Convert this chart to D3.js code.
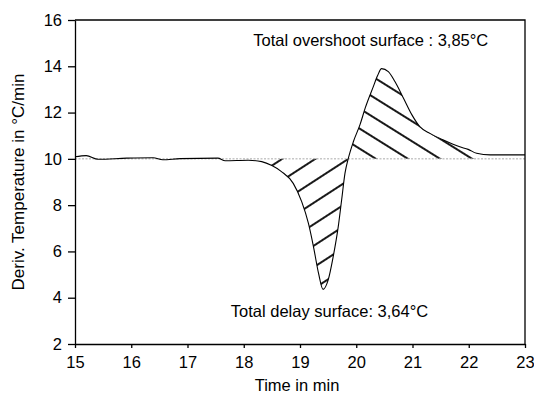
<!DOCTYPE html>
<html>
<head>
<meta charset="utf-8">
<script src="https://cdn.jsdelivr.net/npm/d3@7"></script>
<style>
  body { margin: 0; background: #fff; }
  text { font-family: "Liberation Sans", Arial, sans-serif; fill: #000; }
</style>
</head>
<body>
<svg id="chart" width="534" height="393"></svg>
<script>
// values
const times = [15.00, 15.20, 15.41, 15.92, 16.39, 16.56, 16.87, 17.54, 17.67, 18.08,
  18.32, 18.50, 18.67, 18.88, 19.03, 19.15, 19.24, 19.33, 19.41, 19.50,
  19.59, 19.68, 19.74, 19.80, 19.86, 19.95, 20.07, 20.16, 20.30, 20.38,
  20.45, 20.57, 20.69, 20.84, 20.99, 21.13, 21.31, 21.55, 21.84, 21.99,
  22.14, 22.38, 23.00];
const rates = [10.09, 10.14, 9.98, 10.03, 10.05, 9.96, 10.01, 10.03, 9.92, 9.94,
  9.88, 9.71, 9.45, 8.94, 8.15, 7.21, 6.20, 5.05, 4.36, 4.76,
  5.77, 7.07, 8.22, 9.38, 10.03, 10.75, 11.50, 12.20, 13.10, 13.60,
  13.90, 13.77, 13.33, 12.62, 11.90, 11.39, 11.10, 10.81, 10.52, 10.41,
  10.24, 10.17, 10.17];
const setPoint = 10;
const delayRange = [18.3, 19.86];
const overshootRange = [19.86, 22.15];

const xTicks = [15, 16, 17, 18, 19, 20, 21, 22, 23];
const yTicks = [2, 4, 6, 8, 10, 12, 14, 16];

const xTitle = 'Time in min';
const yTitle = 'Deriv. Temperature in °C/min';
const overshootLabel = 'Total overshoot surface : 3,85°C';
const delayLabel = 'Total delay surface: 3,64°C';

const chart = {
  margin: {top: 20, right: 9, bottom: 49, left: 75},
  fontSize: 16.5
};

function translate(x, y) {
  return `translate(${x}, ${y})`;
};

const svg = d3.select('#chart');
chart.width = +svg.attr('width') - chart.margin.left - chart.margin.right;
chart.height = +svg.attr('height') - chart.margin.top - chart.margin.bottom;

const data = times.map((t, i) => ({t: t, v: rates[i]}));

const xScale = d3.scaleLinear().domain([15, 23]).range([0, chart.width]);
const yScale = d3.scaleLinear().domain([2, 16]).range([chart.height, 0]);

const g = svg.append('g').attr('transform', translate(chart.margin.left, chart.margin.top));

// hatch patterns
const defs = svg.append('defs');
function hatch(id, angle, x0, y0, gap) {
  const p = defs.append('pattern')
    .attr('id', id)
    .attr('patternUnits', 'userSpaceOnUse')
    .attr('width', 40)
    .attr('height', gap)
    .attr('patternTransform', `${translate(x0, y0)} rotate(${angle})`);
  p.append('rect')
    .attr('x', 0).attr('y', -0.9)
    .attr('width', 40).attr('height', 1.8)
    .attr('fill', '#000');
  p.append('rect')
    .attr('x', 0).attr('y', gap - 0.9)
    .attr('width', 40).attr('height', 1.8)
    .attr('fill', '#000');
}
hatch('hatch-delay', -33, xScale(19.86), yScale(setPoint), 18);
hatch('hatch-over', 32, xScale(20.35), yScale(setPoint), 17);

function clipRange(id, range) {
  defs.append('clipPath').attr('id', id)
    .append('rect')
      .attr('x', xScale(range[0]))
      .attr('y', 0)
      .attr('width', xScale(range[1]) - xScale(range[0]))
      .attr('height', chart.height);
}
clipRange('clip-delay', delayRange);
clipRange('clip-over', overshootRange);

const curve = d3.curveMonotoneX;

const lowArea = d3.area()
  .x(d => xScale(d.t))
  .y0(yScale(setPoint))
  .y1(d => yScale(Math.min(d.v, setPoint)))
  .curve(curve);

const highArea = d3.area()
  .x(d => xScale(d.t))
  .y0(yScale(setPoint))
  .y1(d => yScale(Math.max(d.v, setPoint)))
  .curve(curve);

g.append('path')
  .datum(data)
  .attr('d', lowArea)
  .attr('fill', 'url(#hatch-delay)')
  .attr('clip-path', 'url(#clip-delay)');

g.append('path')
  .datum(data)
  .attr('d', highArea)
  .attr('fill', 'url(#hatch-over)')
  .attr('clip-path', 'url(#clip-over)');

// set point line
g.append('line')
  .attr('x1', 0).attr('x2', chart.width)
  .attr('y1', yScale(setPoint)).attr('y2', yScale(setPoint))
  .attr('stroke', '#aaa')
  .attr('stroke-width', 1)
  .attr('stroke-dasharray', '2,1.5');

// measured curve
const line = d3.line()
  .x(d => xScale(d.t))
  .y(d => yScale(d.v))
  .curve(curve);

g.append('path')
  .datum(data)
  .attr('d', line)
  .attr('fill', 'none')
  .attr('stroke', '#000')
  .attr('stroke-width', 1.1);

// axes
const xAxis = g.append('g')
  .attr('class', 'x axis')
  .attr('transform', translate(0, chart.height))
  .call(d3.axisBottom(xScale).tickValues(xTicks).tickFormat(d3.format('d')).tickSize(4).tickPadding(8).tickSizeOuter(0));

const yAxis = g.append('g')
  .attr('class', 'y axis')
  .call(d3.axisLeft(yScale).tickValues(yTicks).tickFormat(d3.format('d')).tickSize(7).tickPadding(6).tickSizeOuter(0));

g.selectAll('.axis path, .axis line').attr('stroke', '#000').attr('stroke-width', 1.3);
g.selectAll('.axis text')
  .style('font-family', '"Liberation Sans", Arial, sans-serif')
  .style('font-size', chart.fontSize + 'px')
  .attr('fill', '#000');

// frame top and right
g.append('path')
  .attr('d', `M0,0H${chart.width}V${chart.height}`)
  .attr('fill', 'none')
  .attr('stroke', '#000')
  .attr('stroke-width', 1.3);

// titles
svg.append('text')
  .attr('x', chart.margin.left + chart.width / 2 - 3)
  .attr('y', 391)
  .attr('text-anchor', 'middle')
  .style('font-size', chart.fontSize + 'px')
  .text(xTitle);

svg.append('text')
  .attr('transform', `${translate(24, chart.margin.top + chart.height / 2)} rotate(-90)`)
  .attr('text-anchor', 'middle')
  .style('font-size', '17px')
  .text(yTitle);

// annotations
g.append('text')
  .attr('x', xScale(18.17))
  .attr('y', yScale(14.86))
  .style('font-size', chart.fontSize + 'px')
  .text(overshootLabel);

g.append('text')
  .attr('x', xScale(17.77))
  .attr('y', yScale(3.18))
  .style('font-size', chart.fontSize + 'px')
  .text(delayLabel);
</script>
</body>
</html>
